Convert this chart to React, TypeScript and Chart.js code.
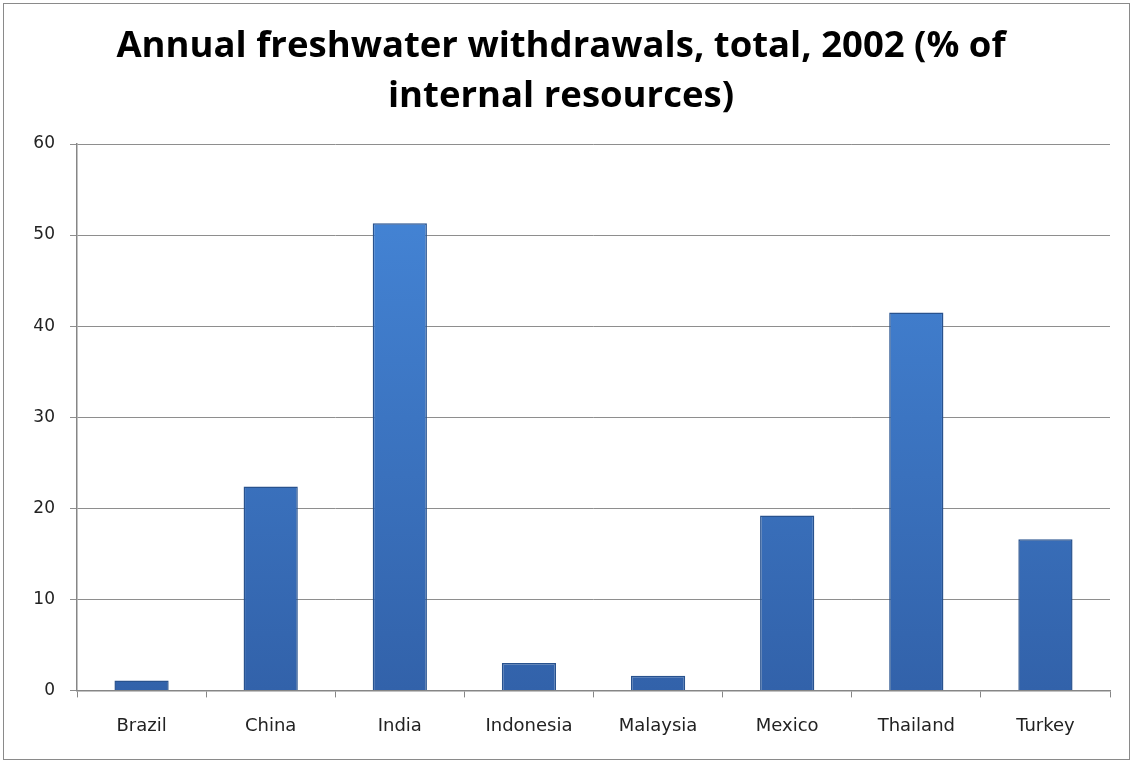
import React, { useEffect, useRef } from "react";
import { Chart, registerables } from "chart.js";

Chart.register(...registerables);

const categories = ["Brazil", "China", "India", "Indonesia", "Malaysia", "Mexico", "Thailand", "Turkey"];
const values = [1.1, 22.4, 51.3, 3.0, 1.6, 19.2, 41.5, 16.6];
const titleLines = ["Annual freshwater withdrawals, total, 2002 (% of", "internal resources)"];

export default function App() {
  const ref = useRef<HTMLCanvasElement | null>(null);
  useEffect(() => {
    document.body.style.margin = "0";
    const canvas = ref.current!;
    const chart = new Chart(canvas, {
      type: "bar",
      data: {
        labels: categories,
        datasets: [
          {
            data: values,
            backgroundColor: (ctx: any) => {
              const c = ctx.chart;
              const area = c.chartArea;
              if (!area) return "#3d72bf";
              const g = c.ctx.createLinearGradient(0, area.top, 0, area.bottom);
              g.addColorStop(0, "#4688da");
              g.addColorStop(1, "#3262aa");
              return g;
            },
            borderColor: "#28528e",
            borderWidth: 1.5,
            barPercentage: 0.42,
            categoryPercentage: 1,
          },
        ],
      },
      options: {
        animation: false,
        responsive: false,
        devicePixelRatio: 1,
        layout: { padding: { left: 12, right: 24, top: 0, bottom: 8 } },
        plugins: {
          legend: { display: false },
          tooltip: { enabled: false },
          title: {
            display: true,
            text: titleLines,
            color: "#000",
            font: { family: "Open Sans", size: 36.5, weight: "bold", lineHeight: 1.37 },
            padding: { top: 22, bottom: 22 },
          },
        },
        scales: {
          x: {
            offset: true,
            grid: {
              offset: true,
              drawOnChartArea: false,
              drawTicks: true,
              tickLength: 7,
              color: "#868686",
            },
            border: { color: "#868686", width: 1.5 },
            ticks: { color: "#222", font: { family: "DejaVu Sans", size: 18 }, padding: 18 },
          },
          y: {
            min: 0,
            max: 60,
            grid: { color: "#8e8e8e", tickLength: 7, lineWidth: 1 },
            border: { color: "#868686", width: 1.5 },
            ticks: { stepSize: 10, color: "#222", font: { family: "DejaVu Sans", size: 17 }, padding: 15 },
            afterFit: (s: any) => {
              s.width = 65;
            },
          },
        },
      },
    } as any);
    return () => chart.destroy();
  }, []);
  return (
    <div style={{ position: "absolute", left: 0, top: 0, width: 1134, height: 763, background: "#fff" }}>
      <canvas ref={ref} width={1134} height={763} style={{ position: "absolute", left: 0, top: 0 }} />
      <div
        style={{
          position: "absolute",
          left: 3,
          top: 3,
          width: 1125,
          height: 755,
          border: "1px solid #8a8a8a",
          pointerEvents: "none",
        }}
      />
    </div>
  );
}
